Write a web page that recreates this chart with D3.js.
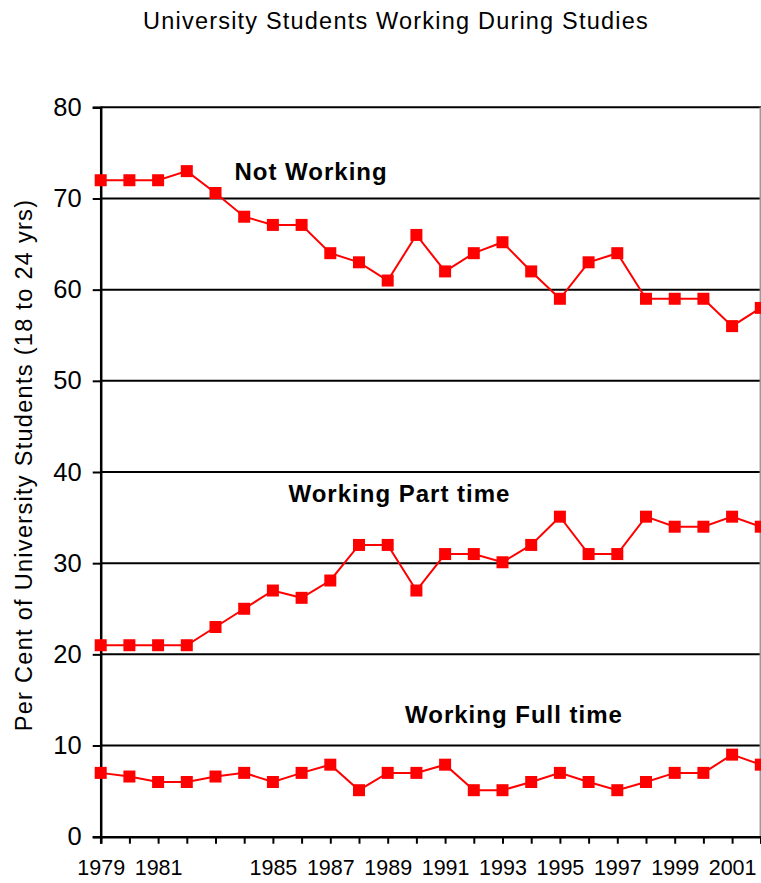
<!DOCTYPE html>
<html>
<head>
<meta charset="utf-8">
<script src="https://cdn.jsdelivr.net/npm/d3@7"></script>
<style>
  body { margin: 0; background: #fff; overflow: hidden; }
  svg { display: block; font-family: "Liberation Sans", Arial, sans-serif; }
</style>
</head>
<body>
<svg id="chart" width="761" height="883"></svg>
<script>
// Survey years
const years = [1979, 1980, 1981, 1982, 1983, 1984, 1985, 1986, 1987, 1988, 1989, 1990,
               1991, 1992, 1993, 1994, 1995, 1996, 1997, 1998, 1999, 2000, 2001, 2002];

// Per cent of university students (18 to 24 yrs)
const notWorking = [72, 72, 72, 73, 70.6, 68, 67.1, 67.1, 64, 63, 61, 66,
                    62, 64, 65.2, 62, 59, 63, 64, 59, 59, 59, 56, 58];
const partTime   = [21, 21, 21, 21, 23, 25, 27, 26.2, 28.1, 32, 32, 27,
                    31, 31, 30.1, 32, 35.1, 31, 31, 35.1, 34, 34, 35.1, 34];
const fullTime   = [7, 6.6, 6, 6, 6.6, 7, 6, 7, 7.9, 5.1, 7, 7,
                    7.9, 5.1, 5.1, 6, 7, 6, 5.1, 6, 7, 7, 9, 7.9];

const yTicks = [0, 10, 20, 30, 40, 50, 60, 70, 80];
const xTickLabels = [1979, 1981, 1985, 1987, 1989, 1991, 1993, 1995, 1997, 1999, 2001];

const seriesNames = ["Not Working", "Working Part time", "Working Full time"];
// Where each series name sits, in data units (year, per cent)
const nameYears = [1986.33, 1989.41, 1993.4];
const nameValues = [72.0, 36.7, 12.45];

const W = 761, H = 883;
const margin = { top: 107.3, right: 0.2, bottom: 46.3, left: 100.7 };

const svg = d3.select("#chart");

const x = d3.scaleLinear()
  .domain([years[0], years[years.length - 1]])
  .range([margin.left, W - margin.right]);
const y = d3.scaleLinear()
  .domain([0, 80])
  .range([H - margin.bottom, margin.top]);

// Title
svg.append("text")
  .attr("x", 396)
  .attr("y", 29)
  .attr("text-anchor", "middle")
  .style("font-size", "23.5px")
  .style("letter-spacing", "1.2px")
  .text("University Students Working During Studies");

// Horizontal gridlines
svg.append("g")
  .selectAll("line")
  .data(yTicks.filter(d => d > 0))
  .join("line")
  .attr("x1", x.range()[0])
  .attr("x2", W)
  .attr("y1", d => y(d))
  .attr("y2", d => y(d))
  .attr("stroke", "#000")
  .attr("stroke-width", 2);

// Right frame edge
svg.append("line")
  .attr("x1", x.range()[1] - 0.5)
  .attr("x2", x.range()[1] - 0.5)
  .attr("y1", y(80))
  .attr("y2", y(0))
  .attr("stroke", "#9a9a9a")
  .attr("stroke-width", 1.5);

// Y axis
const yAxis = svg.append("g")
  .attr("transform", `translate(${margin.left},0)`)
  .call(d3.axisLeft(y).tickValues(yTicks).tickSize(8).tickPadding(11).tickFormat(d3.format("d")));
yAxis.select(".domain").attr("stroke", "#000").attr("stroke-width", 2.5);
yAxis.selectAll(".tick line").attr("stroke", "#000").attr("stroke-width", 2);
yAxis.selectAll(".tick text")
  .attr("fill", "#000")
  .style("font-size", "25.5px")
  .style("font-family", "'Liberation Sans', Arial, sans-serif");

// X axis
const xAxis = svg.append("g")
  .attr("transform", `translate(0,${y(0)})`)
  .call(d3.axisBottom(x)
    .tickValues(years)
    .tickSize(7)
    .tickPadding(16)
    .tickFormat(d => xTickLabels.includes(d) ? String(d) : ""));
xAxis.select(".domain").attr("stroke", "#000").attr("stroke-width", 2.5);
xAxis.selectAll(".tick line").attr("stroke", "#000").attr("stroke-width", 2);
xAxis.selectAll(".tick text")
  .attr("fill", "#000")
  .style("font-size", "21.5px")
  .style("font-family", "'Liberation Sans', Arial, sans-serif");

// Y axis title
svg.append("text")
  .attr("transform", `translate(32,${(y(0) + y(80)) / 2 - 7}) rotate(-90)`)
  .attr("text-anchor", "middle")
  .style("font-size", "23.5px")
  .style("letter-spacing", "1.3px")
  .text("Per Cent of University Students (18 to 24 yrs)");

// Series
const series = [notWorking, partTime, fullTime];
const line = d3.line()
  .x((d, i) => x(years[i]))
  .y(d => y(d));

const sg = svg.append("g");
series.forEach(values => {
  sg.append("path")
    .datum(values)
    .attr("fill", "none")
    .attr("stroke", "#ff0000")
    .attr("stroke-width", 2)
    .attr("d", line);
  sg.append("g")
    .selectAll("rect")
    .data(values)
    .join("rect")
    .attr("x", (d, i) => x(years[i]) - 6)
    .attr("y", d => y(d) - 6)
    .attr("width", 12)
    .attr("height", 12)
    .attr("fill", "#ff0000");
});

// Series names
svg.append("g")
  .selectAll("text")
  .data(seriesNames)
  .join("text")
  .attr("x", (d, i) => x(nameYears[i]))
  .attr("y", (d, i) => y(nameValues[i]))
  .attr("text-anchor", "middle")
  .style("font-size", "24px")
  .style("font-weight", "bold")
  .style("letter-spacing", "1px")
  .text(d => d);
</script>
</body>
</html>
